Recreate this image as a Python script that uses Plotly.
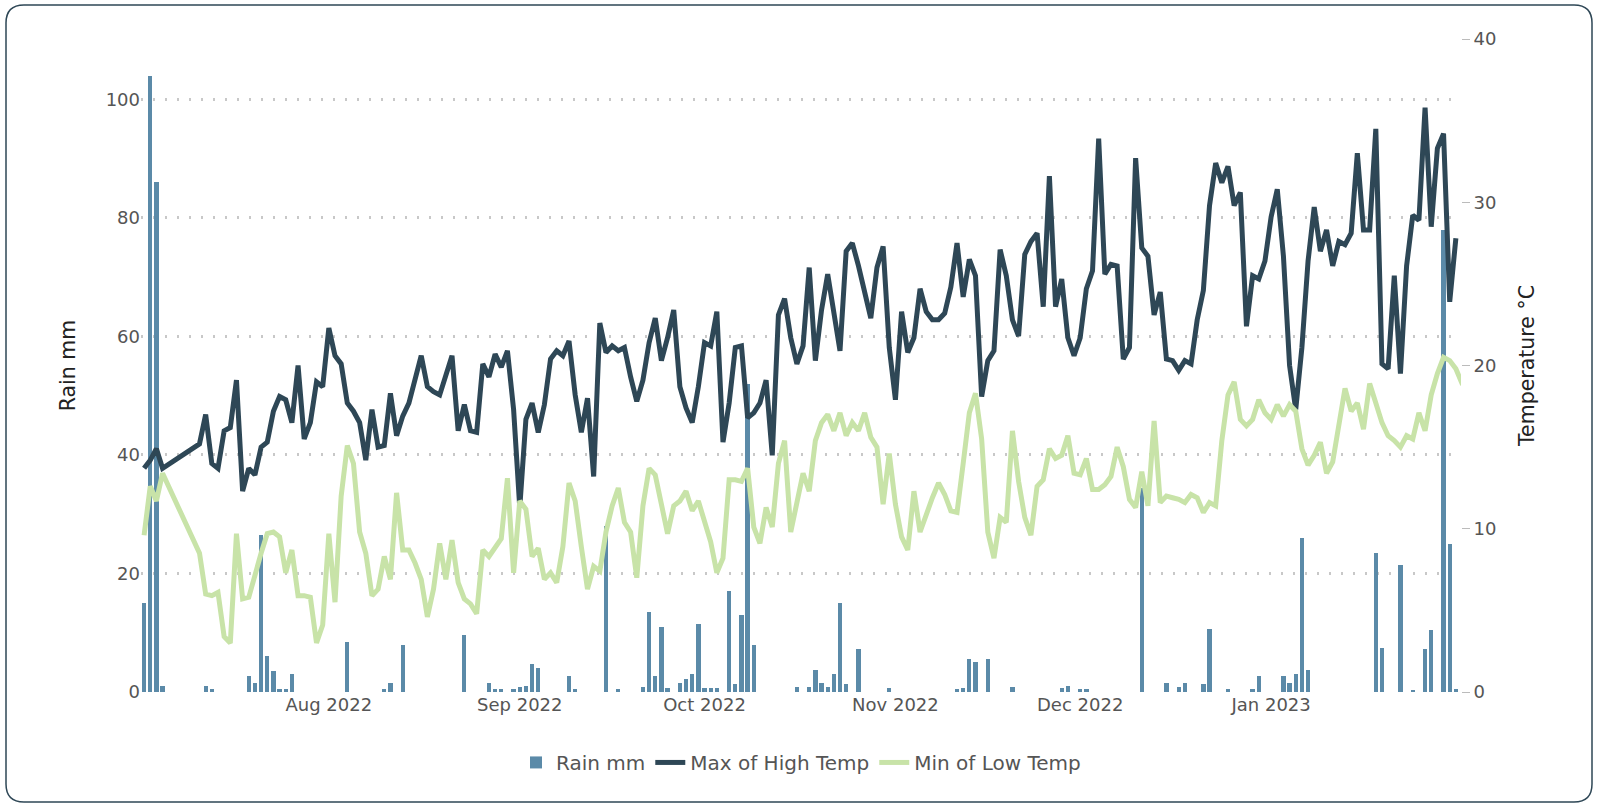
import plotly.graph_objects as go
import pandas as pd

rain_dates = ["2022-07-02","2022-07-03","2022-07-04","2022-07-05","2022-07-12","2022-07-13","2022-07-19","2022-07-20","2022-07-21","2022-07-22","2022-07-23","2022-07-24","2022-07-25","2022-07-26","2022-08-04","2022-08-10","2022-08-11","2022-08-13","2022-08-23","2022-08-27","2022-08-28","2022-08-29","2022-08-31","2022-09-01","2022-09-02","2022-09-03","2022-09-04","2022-09-09","2022-09-10","2022-09-15","2022-09-17","2022-09-21","2022-09-22","2022-09-23","2022-09-24","2022-09-25","2022-09-27","2022-09-28","2022-09-29","2022-09-30","2022-10-01","2022-10-02","2022-10-03","2022-10-05","2022-10-06","2022-10-07","2022-10-08","2022-10-09","2022-10-16","2022-10-18","2022-10-19","2022-10-20","2022-10-21","2022-10-22","2022-10-23","2022-10-24","2022-10-26","2022-10-31","2022-11-11","2022-11-12","2022-11-13","2022-11-14","2022-11-16","2022-11-20","2022-11-28","2022-11-29","2022-12-01","2022-12-02","2022-12-11","2022-12-15","2022-12-17","2022-12-18","2022-12-21","2022-12-22","2022-12-25","2022-12-29","2022-12-30","2023-01-03","2023-01-04","2023-01-05","2023-01-06","2023-01-07","2023-01-18","2023-01-19","2023-01-22","2023-01-24","2023-01-26","2023-01-27","2023-01-29","2023-01-30","2023-01-31"]
rain_mm = [15,104,86,1,1,0.5,2.7,1.5,26.5,6,3.5,0.5,0.5,3,8.5,0.5,1.5,8,9.7,1.5,0.5,0.5,0.5,0.8,1,4.7,4,2.7,0.5,28,0.5,0.8,13.5,2.7,11,0.6,1.5,2.2,3,11.5,0.7,0.7,0.6,17,1.3,13,52,8,0.8,0.8,3.7,1.5,0.8,3,15,1.4,7.3,0.7,0.5,0.7,5.5,5,5.5,0.8,0.7,1,0.5,0.5,34.5,1.5,0.8,1.5,1.3,10.7,0.5,0.5,2.7,2.7,1.5,3,26,3.7,23.5,7.5,21.5,0.3,7.3,10.5,78,25,0.5]

early_dates = ["2022-07-02","2022-07-03","2022-07-04","2022-07-05"]
high_early = [13.7,14.2,14.9,13.7]
low_early = [9.6,12.6,11.7,13.4]

high_temp = [15.2,17.0,14.0,13.7,16.0,16.2,19.1,12.3,13.7,13.3,15.0,15.3,17.2,18.1,17.9,16.5,20.0,15.5,16.5,19.0,18.7,22.3,20.6,20.1,17.7,17.2,16.5,14.2,17.3,15.0,15.1,18.3,15.7,16.9,17.7,19.2,20.6,18.7,18.4,18.2,19.4,20.6,16.0,17.6,16.0,15.9,20.1,19.3,20.7,19.9,20.9,17.3,11.3,16.7,17.7,15.9,17.6,20.4,20.9,20.6,21.5,18.2,15.9,18.0,13.2,22.6,20.8,21.2,20.9,21.1,19.3,17.8,19.1,21.4,22.9,20.3,21.7,23.4,18.7,17.4,16.5,18.7,21.4,21.2,23.3,15.3,17.7,21.1,21.2,16.8,17.1,17.7,19.1,14.5,23.1,24.1,21.7,20.1,21.2,26.0,20.3,23.4,25.6,23.3,20.9,27.0,27.5,26.1,24.5,22.9,26.0,27.3,21.1,17.9,23.3,20.8,21.7,24.7,23.3,22.8,22.8,23.2,24.8,27.5,24.2,26.5,25.5,18.1,20.3,20.9,27.1,25.5,22.8,21.8,26.8,27.6,28.1,23.6,31.6,23.6,25.3,21.7,20.6,21.7,24.7,25.8,33.9,25.6,26.2,26.1,20.4,21.1,32.7,27.2,26.7,23.1,24.5,20.4,20.3,19.7,20.3,20.1,22.8,24.6,29.8,32.4,31.2,32.2,29.8,30.6,22.4,25.5,25.3,26.4,29.1,30.8,26.7,20.0,17.3,21.1,26.4,29.7,27.0,28.3,26.1,27.6,27.4,28.1,33.0,28.3,28.3,34.5,20.1,19.8,25.5,19.5,26.1,29.2,28.9,35.8,28.5,33.3,34.2,23.9,27.8]
low_temp = [8.5,6.0,5.9,6.1,3.4,3.0,9.7,5.7,5.8,7.3,8.5,9.7,9.8,9.5,7.3,8.7,5.9,5.9,5.8,3.0,4.1,9.7,5.5,12.0,15.1,14.0,9.8,8.5,5.9,6.3,8.3,6.9,12.2,8.7,8.7,7.9,6.9,4.6,6.3,9.1,6.9,9.3,6.7,5.7,5.4,4.8,8.7,8.3,8.8,9.4,13.1,7.3,11.7,11.2,8.3,8.8,6.9,7.3,6.7,8.9,12.8,11.7,8.9,6.3,7.7,7.4,9.8,11.4,12.5,10.4,9.8,7.0,11.4,13.7,13.3,11.4,9.7,11.4,11.7,12.3,11.1,11.7,10.5,9.2,7.3,8.2,13.0,13.0,12.9,13.7,10.1,9.1,11.3,10.1,14.0,15.4,9.8,11.7,13.4,12.3,15.4,16.5,17.0,16.0,17.1,15.7,16.5,16.0,17.1,15.6,15.0,11.5,14.6,11.5,9.5,8.7,12.3,9.8,10.9,11.9,12.8,12.1,11.1,11.0,14.0,17.1,18.3,15.5,9.8,8.2,10.7,10.4,16.0,12.9,10.7,9.6,12.6,13.0,14.9,14.3,14.5,15.7,13.4,13.3,14.3,12.4,12.4,12.7,13.2,15.0,13.8,11.8,11.3,13.5,11.4,16.6,11.6,12.0,11.9,11.8,11.6,12.1,11.9,11.0,11.6,11.4,15.4,18.2,19.0,16.7,16.3,16.7,17.9,17.1,16.7,17.6,16.9,17.6,17.2,14.9,13.9,14.5,15.3,13.4,14.1,16.2,18.6,17.2,17.7,16.1,18.9,17.7,16.5,15.7,15.4,15.0,15.7,15.5,17.1,16.0,18.2,19.5,20.5,20.3,19.8,18.9,18.4]

tick_dates = ["2022-08-01", "2022-09-01", "2022-10-01", "2022-11-01", "2022-12-01", "2023-01-01"]
tick_labels = ["Aug 2022", "Sep 2022", "Oct 2022", "Nov 2022", "Dec 2022", "Jan 2023"]

high_dates = early_dates + [d.strftime("%Y-%m-%d") for d in pd.date_range("2022-07-11", periods=len(high_temp))]
low_dates = early_dates + [d.strftime("%Y-%m-%d") for d in pd.date_range("2022-07-11", periods=len(low_temp))]

W, H = 1602, 805
ML, MR, MT, MB = 141, 141, 39, 113
PW, PH = W - ML - MR, H - MT - MB

fig = go.Figure()
fig.add_trace(go.Bar(x=rain_dates, y=rain_mm, name="Rain mm", marker_color="#5b8aa8",
                     marker_line_width=0, width=0.7 * 86400000, yaxis="y"))
fig.add_trace(go.Scatter(x=high_dates, y=high_early + high_temp, name="Max of High Temp",
                         mode="lines", line=dict(color="#2e4756", width=5), yaxis="y2"))
fig.add_trace(go.Scatter(x=low_dates, y=low_early + low_temp, name="Min of Low Temp",
                         mode="lines", line=dict(color="#c8e3a8", width=5), yaxis="y2"))

def px_x(p): return (p - ML) / PW
def px_y(p): return (H - MB - p) / PH
x0, x1, y0, y1, r = 6, 1592, 5, 802, 18
path = (f"M {px_x(x0+r)},{px_y(y0)} L {px_x(x1-r)},{px_y(y0)} Q {px_x(x1)},{px_y(y0)} {px_x(x1)},{px_y(y0+r)} "
        f"L {px_x(x1)},{px_y(y1-r)} Q {px_x(x1)},{px_y(y1)} {px_x(x1-r)},{px_y(y1)} "
        f"L {px_x(x0+r)},{px_y(y1)} Q {px_x(x0)},{px_y(y1)} {px_x(x0)},{px_y(y1-r)} "
        f"L {px_x(x0)},{px_y(y0+r)} Q {px_x(x0)},{px_y(y0)} {px_x(x0+r)},{px_y(y0)} Z")

fig.update_layout(
    width=W, height=H, autosize=False,
    margin=dict(l=ML, r=MR, t=MT, b=MB),
    paper_bgcolor="white", plot_bgcolor="white",
    font=dict(family="DejaVu Sans", size=18, color="#555555"),
    bargap=0,
    xaxis=dict(type="date", range=["2022-07-01 12:00", "2023-01-31 20:00"],
               tickvals=tick_dates, ticktext=tick_labels, showgrid=False, zeroline=False, ticks="",
               tickfont=dict(size=18, color="#555555")),
    yaxis=dict(range=[0, 110.2], tickvals=[0, 20, 40, 60, 80, 100], showgrid=True,
               gridcolor="#c8c8c8", griddash="2px,10px", gridwidth=2.5, zeroline=False,
               title=dict(text="Rain mm", font=dict(size=20.5, color="#222222"), standoff=24)),
    yaxis2=dict(range=[0, 40], overlaying="y", side="right", tickvals=[0, 10, 20, 30, 40],
                showgrid=False, zeroline=False, ticks="outside", ticklen=8, tickcolor="#bbbbbb",
                title=dict(text="Temperature °C", font=dict(size=20.5, color="#222222"), standoff=24)),
    legend=dict(orientation="h", x=0.5, xanchor="center", y=-0.078, yanchor="top",
                font=dict(size=20, color="#555555")),
    shapes=[dict(type="path", path=path, xref="paper", yref="paper",
                 line=dict(color="#2e4756", width=1.5), layer="below")],
)
html = fig.to_html(full_html=True, config={"displayModeBar": False})
html = html.replace("<head>", "<head><style>html,body{margin:0;padding:0;overflow:hidden}</style>", 1)
with open("out.html", "w", encoding="utf-8") as f:
    f.write(html)
